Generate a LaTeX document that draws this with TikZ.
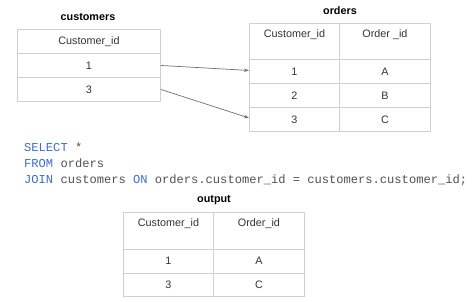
\documentclass[tikz,border=0pt]{standalone}
\usepackage{fontspec}
\setmainfont{Liberation Sans}
\setmonofont{Liberation Mono}
\usepackage{tikz}
\usetikzlibrary{arrows.meta,positioning}
\usepackage{xcolor}
\definecolor{gridgray}{HTML}{D0D0D0}
\definecolor{linkgray}{HTML}{707070}
\definecolor{celltext}{HTML}{333333}
\definecolor{sqlblue}{HTML}{3B6CCB}
\definecolor{sqlgray}{HTML}{505050}
\newcommand{\sqlkw}[1]{\textcolor{sqlblue}{#1}}
\tikzset{
  cell/.style={draw=gridgray,line width=0.9pt,minimum width=#1pt,minimum height=24pt,
    anchor=north west,inner sep=0pt,text=celltext,font=\fontsize{10.8}{13}\selectfont},
  headtext/.style={inner sep=0pt,text=celltext,font=\fontsize{10.8}{13}\selectfont},
  title/.style={font=\bfseries\fontsize{10.8}{13}\selectfont,inner sep=0pt},
  sqlline/.style={anchor=base west,inner sep=0pt,text=sqlgray,font=\ttfamily\fontsize{12.1}{16}\selectfont},
  link/.style={draw=linkgray,line width=0.7pt}
}
\begin{document}
\begin{tikzpicture}[x=1pt,y=-1pt,>={Stealth[length=5pt,width=3.5pt]},line cap=round]
\useasboundingbox (0,0) rectangle (474,301);
% customers table
\node[title] (ctitle) at (88,17) {customers};
\node[cell=143] (c0) at (17,29) {Customer\_id};
\node[cell=143] (c1) at (17,53) {1};
\node[cell=143] (c3) at (17,77) {3};
% orders table
\node[title] (otitle) at (340,11) {orders};
\node[cell=90,minimum height=36pt] (oh1) at (249,23) {};
\node[cell=91,minimum height=36pt] (oh2) at (339,23) {};
\node[headtext,below=6pt of oh1.north] {Customer\_id};
\node[headtext,below=6pt of oh2.north] {Order \_id};
\node[cell=90] (o11) at (249,59) {1};
\node[cell=91] (o12) at (339,59) {A};
\node[cell=90] (o21) at (249,83) {2};
\node[cell=91] (o22) at (339,83) {B};
\node[cell=90] (o31) at (249,107) {3};
\node[cell=91] (o32) at (339,107) {C};
% matching rows
\draw[link,->] (c1.east) -- ([yshift=1pt]o11.west);
\draw[link,->] (c3.east) -- ([yshift=1.5pt]o31.west);
% query
\node[sqlline] (sql1) at (24,151) {\sqlkw{SELECT} *};
\node[sqlline] (sql2) at (24,167) {\sqlkw{FROM} orders};
\node[sqlline] (sql3) at (24,183) {\sqlkw{JOIN} customers \sqlkw{ON} orders.customer\_id = customers.customer\_id;};
% output table
\node[title] (ptitle) at (214,200) {output};
\node[cell=90,minimum height=37pt] (ph1) at (123,212) {};
\node[cell=91,minimum height=37pt] (ph2) at (213,212) {};
\node[headtext,below=6pt of ph1.north] {Customer\_id};
\node[headtext,below=6pt of ph2.north] {Order\_id};
\node[cell=90,minimum height=23.5pt] (p11) at (123,249) {1};
\node[cell=91,minimum height=23.5pt] (p12) at (213,249) {A};
\node[cell=90,minimum height=23.5pt] (p31) at (123,272.5) {3};
\node[cell=91,minimum height=23.5pt] (p32) at (213,272.5) {C};
\end{tikzpicture}
\end{document}
